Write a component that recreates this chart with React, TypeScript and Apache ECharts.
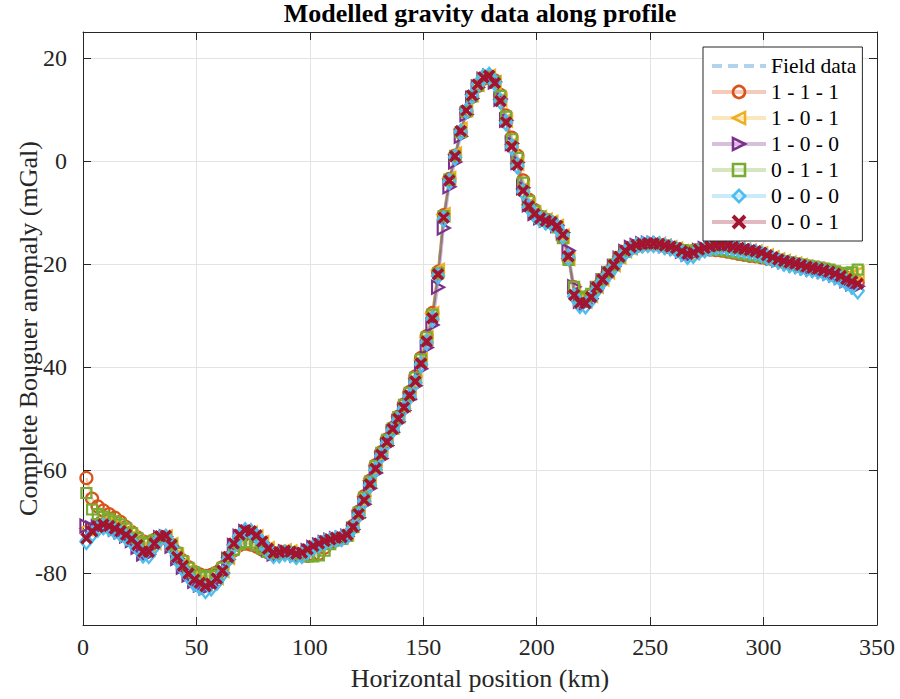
import React, { useEffect, useRef } from "react";
import * as echarts from "echarts";

// Horizontal position of the stations (km)
const positionKm = [
  1.5, 4, 6.5, 9, 11.5, 14, 16.5, 19, 21.5, 24,
  26.5, 29, 31.5, 34, 36.5, 39, 41.5, 44, 46.5, 49,
  51.5, 54, 56.5, 59, 61.5, 64, 66.5, 69, 71.5, 74,
  76.5, 79, 81.5, 84, 86.5, 89, 91.5, 94, 96.5, 99,
  101.5, 104, 106.5, 109, 111.5, 114, 116.5, 119, 121.5, 124,
  126.5, 129, 131.5, 134, 136.5, 139, 141.5, 144, 146.5, 149,
  151.5, 154, 156.5, 159, 161.5, 164, 166.5, 169, 171.5, 174,
  176.5, 179, 181.5, 184, 186.5, 189, 191.5, 194, 196.5, 199,
  201.5, 204, 206.5, 209, 211.5, 214, 216.5, 219, 221.5, 224,
  226.5, 229, 231.5, 234, 236.5, 239, 241.5, 244, 246.5, 249,
  251.5, 254, 256.5, 259, 261.5, 264, 266.5, 269, 271.5, 274,
  276.5, 279, 281.5, 284, 286.5, 289, 291.5, 294, 296.5, 299,
  301.5, 304, 306.5, 309, 311.5, 314, 316.5, 319, 321.5, 324,
  326.5, 329, 331.5, 334, 336.5, 339, 341.5,
];

const fieldData = [
  -72.5, -71.5, -70.8, -70.4, -70.7, -71.2, -71.7, -72.4, -73.2, -74.3,
  -75.5, -75.6, -74.2, -72.9, -72.8, -74.4, -76.6, -78.3, -79.8, -81.0,
  -81.6, -82.3, -81.8, -80.9, -79.4, -76.8, -74.3, -72.6, -71.8, -72.0,
  -72.7, -73.9, -75.3, -76.0, -75.9, -75.6, -75.8, -76.2, -76.0, -75.3,
  -74.7, -74.2, -73.7, -73.4, -73.1, -73.0, -72.5, -71.0, -68.5, -65.8,
  -62.5, -59.6, -56.8, -54.3, -51.9, -49.8, -47.6, -45.3, -42.6, -39.0,
  -34.8, -30.2, -21.8, -11.0, -3.7, 1.0, 5.9, 9.9, 12.8, 14.9,
  16.3, 16.6, 15.2, 11.7, 7.6, 2.9, -0.7, -5.6, -8.7, -10.2,
  -11.0, -11.5, -11.8, -12.5, -14.2, -18.4, -25.8, -27.4, -27.5, -26.3,
  -24.4, -22.9, -21.5, -20.1, -18.6, -17.4, -16.7, -16.3, -16.1, -16.0,
  -16.0, -16.1, -16.3, -16.6, -16.9, -17.5, -18.0, -17.8, -17.2, -16.9,
  -16.6, -16.4, -16.3, -16.4, -16.7, -16.9, -17.1, -17.3, -17.5, -17.8,
  -18.3, -18.7, -19.1, -19.4, -19.7, -19.9, -20.2, -20.5, -20.7, -20.9,
  -21.2, -21.5, -21.9, -22.3, -22.9, -23.4, -23.8,
];

const model111 = [
  -61.5, -65.5, -67.0, -67.8, -68.5, -69.2, -70.0, -71.0, -72.0, -73.0,
  -73.8, -74.0, -73.5, -73.0, -73.2, -74.5, -76.0, -77.5, -78.8, -79.7,
  -80.2, -80.5, -80.3, -79.8, -78.8, -77.0, -75.5, -74.5, -74.2, -74.4,
  -74.8, -75.4, -75.9, -76.2, -76.1, -75.9, -76.0, -76.3, -76.5, -76.6,
  -76.4, -76.2, -75.0, -74.0, -73.5, -73.2, -72.6, -70.8, -68.0, -65.0,
  -62.0, -59.0, -56.5, -54.0, -51.8, -49.6, -47.2, -44.8, -41.8, -38.2,
  -34.0, -29.5, -21.5, -10.5, -3.5, 1.0, 5.5, 9.5, 12.4, 14.5,
  15.9, 16.3, 15.6, 12.8, 8.8, 4.5, 1.0, -3.8, -7.5, -9.5,
  -10.8, -11.4, -11.9, -12.8, -14.8, -19.0, -24.5, -26.5, -26.8, -26.0,
  -24.5, -23.0, -21.6, -20.2, -18.8, -17.6, -16.9, -16.5, -16.3, -16.2,
  -16.2, -16.3, -16.5, -16.8, -17.1, -17.4, -17.6, -17.5, -17.3, -17.2,
  -17.2, -17.3, -17.4, -17.6, -17.8, -18.0, -18.2, -18.4, -18.5, -18.7,
  -18.9, -19.1, -19.3, -19.6, -19.8, -20.0, -20.2, -20.4, -20.6, -20.8,
  -21.0, -21.3, -21.7, -22.1, -22.6, -23.1, -23.6,
];

const model101 = [
  -71.3, -70.8, -70.3, -70.0, -70.3, -70.8, -71.4, -72.1, -72.9, -74.0,
  -75.2, -75.3, -74.0, -72.9, -72.9, -74.4, -76.5, -78.2, -79.6, -80.8,
  -81.5, -82.1, -81.7, -80.8, -79.4, -76.9, -74.4, -72.8, -72.0, -72.2,
  -72.9, -74.0, -75.2, -75.9, -75.8, -75.6, -75.8, -76.1, -76.0, -75.4,
  -74.9, -74.4, -73.9, -73.5, -73.2, -73.0, -72.3, -70.6, -67.9, -65.1,
  -62.0, -59.1, -56.5, -54.0, -51.6, -49.5, -47.3, -45.0, -42.2, -38.6,
  -34.3, -29.6, -21.2, -10.4, -3.4, 1.3, 6.1, 10.0, 12.9, 14.9,
  16.2, 16.4, 15.2, 11.9, 7.9, 3.2, -0.5, -5.4, -8.5, -10.1,
  -11.0, -11.5, -11.9, -12.7, -14.6, -18.9, -25.5, -27.0, -27.2, -26.1,
  -24.3, -22.9, -21.5, -20.1, -18.6, -17.4, -16.8, -16.4, -16.2, -16.1,
  -16.1, -16.2, -16.5, -16.8, -17.1, -17.6, -17.9, -17.8, -17.3, -17.0,
  -16.8, -16.6, -16.6, -16.7, -16.9, -17.1, -17.3, -17.5, -17.7, -18.0,
  -18.4, -18.8, -19.2, -19.5, -19.8, -20.0, -20.3, -20.6, -20.8, -21.0,
  -21.3, -21.6, -22.0, -22.3, -22.6, -22.2, -21.8,
];

const model100 = [
  -70.8, -71.2, -70.9, -70.6, -70.9, -71.4, -71.9, -72.7, -73.6, -74.9,
  -76.2, -76.3, -74.6, -73.1, -72.9, -74.7, -77.1, -78.8, -80.3, -81.5,
  -82.2, -82.8, -82.3, -81.3, -79.9, -77.3, -74.6, -72.8, -71.9, -72.0,
  -72.8, -74.0, -75.4, -76.2, -76.1, -75.8, -76.0, -76.4, -76.3, -75.6,
  -75.0, -74.5, -74.0, -73.6, -73.3, -73.2, -72.8, -71.5, -69.2, -66.6,
  -63.5, -60.5, -57.7, -55.2, -52.6, -50.6, -48.4, -46.2, -43.6, -40.3,
  -36.2, -31.8, -24.5, -13.0, -5.0, -0.2, 4.8, 9.0, 12.1, 14.3,
  15.8, 16.4, 15.3, 12.0, 7.9, 3.4, -0.3, -5.2, -8.5, -10.2,
  -11.0, -11.5, -11.8, -12.5, -13.9, -17.4, -24.4, -27.2, -27.7, -26.7,
  -24.8, -23.3, -21.9, -20.5, -18.9, -17.6, -16.8, -16.4, -16.1, -16.0,
  -16.0, -16.1, -16.4, -16.6, -16.9, -17.5, -18.1, -18.0, -17.4, -17.0,
  -16.7, -16.5, -16.4, -16.5, -16.8, -17.0, -17.2, -17.4, -17.6, -17.9,
  -18.4, -18.8, -19.2, -19.5, -19.8, -20.1, -20.4, -20.7, -20.9, -21.1,
  -21.4, -21.7, -22.1, -22.6, -23.2, -23.8, -24.3,
];

const model011 = [
  -64.4, -67.6, -68.5, -69.0, -69.4, -69.9, -70.5, -71.3, -72.2, -73.2,
  -74.0, -74.2, -73.6, -73.0, -73.1, -74.4, -76.0, -77.6, -78.9, -79.8,
  -80.4, -80.7, -80.5, -79.9, -78.9, -77.0, -75.4, -74.3, -73.9, -74.0,
  -74.5, -75.2, -75.8, -76.1, -76.0, -75.8, -75.9, -76.2, -76.5, -76.7,
  -76.7, -76.5, -75.6, -74.3, -73.6, -73.3, -72.7, -71.0, -68.2, -65.3,
  -62.2, -59.2, -56.6, -54.1, -51.9, -49.7, -47.3, -45.0, -42.0, -38.5,
  -34.2, -29.8, -21.8, -10.7, -3.6, 1.0, 5.6, 9.6, 12.5, 14.6,
  16.0, 16.3, 15.4, 12.6, 8.6, 4.2, 0.6, -4.2, -7.8, -9.7,
  -10.8, -11.4, -11.9, -12.9, -15.0, -19.2, -24.4, -26.3, -26.6, -25.8,
  -24.4, -22.9, -21.5, -20.1, -18.7, -17.6, -16.9, -16.5, -16.3, -16.2,
  -16.2, -16.3, -16.5, -16.7, -17.0, -17.3, -17.5, -17.4, -17.2, -17.1,
  -17.1, -17.2, -17.3, -17.5, -17.7, -17.9, -18.1, -18.3, -18.4, -18.6,
  -18.8, -19.0, -19.2, -19.5, -19.7, -19.9, -20.1, -20.3, -20.5, -20.7,
  -20.9, -21.1, -21.4, -21.7, -21.9, -21.6, -21.1,
];

const model000 = [
  -73.8, -72.4, -71.4, -70.9, -71.2, -71.8, -72.3, -73.0, -73.9, -75.1,
  -76.4, -76.5, -74.8, -73.2, -73.0, -74.9, -77.3, -79.1, -80.6, -81.9,
  -82.6, -83.3, -82.8, -81.7, -80.1, -77.3, -74.6, -72.7, -71.7, -71.9,
  -72.8, -74.1, -75.6, -76.5, -76.4, -76.1, -76.3, -76.7, -76.5, -75.7,
  -75.0, -74.4, -73.9, -73.6, -73.3, -73.2, -72.7, -71.2, -68.7, -66.0,
  -62.9, -59.9, -57.2, -54.7, -52.2, -50.2, -48.0, -45.7, -43.0, -39.5,
  -35.2, -30.7, -22.3, -11.3, -4.0, 0.7, 5.6, 9.7, 12.6, 14.8,
  16.3, 16.6, 15.2, 11.6, 7.4, 2.7, -1.0, -6.0, -9.0, -10.5,
  -11.3, -11.8, -12.1, -12.8, -14.5, -18.7, -26.3, -28.0, -28.1, -26.9,
  -25.0, -23.4, -22.0, -20.6, -19.0, -17.8, -17.0, -16.5, -16.3, -16.2,
  -16.2, -16.3, -16.6, -16.8, -17.2, -17.9, -18.5, -18.3, -17.6, -17.2,
  -16.9, -16.7, -16.6, -16.7, -17.0, -17.2, -17.4, -17.6, -17.8, -18.1,
  -18.6, -19.0, -19.4, -19.8, -20.1, -20.3, -20.6, -20.9, -21.1, -21.3,
  -21.6, -22.0, -22.4, -22.9, -23.6, -24.3, -25.2,
];

const model001 = [
  -73.2, -71.8, -71.0, -70.5, -70.8, -71.3, -71.8, -72.5, -73.3, -74.5,
  -75.8, -75.8, -74.2, -72.8, -72.7, -74.5, -76.8, -78.5, -80.0, -81.2,
  -81.8, -82.5, -82.0, -81.0, -79.5, -76.8, -74.2, -72.5, -71.6, -71.8,
  -72.6, -73.8, -75.2, -76.0, -75.9, -75.6, -75.8, -76.2, -76.0, -75.3,
  -74.7, -74.2, -73.7, -73.4, -73.1, -73.0, -72.5, -71.0, -68.5, -65.8,
  -62.7, -59.7, -57.0, -54.5, -52.0, -50.0, -47.8, -45.5, -42.8, -39.3,
  -35.0, -30.5, -22.0, -11.0, -3.8, 0.9, 5.8, 9.8, 12.7, 14.8,
  16.2, 16.5, 15.1, 11.6, 7.5, 2.8, -0.8, -5.8, -8.8, -10.3,
  -11.1, -11.6, -11.9, -12.6, -14.3, -18.5, -26.0, -27.5, -27.6, -26.4,
  -24.5, -23.0, -21.6, -20.2, -18.6, -17.4, -16.7, -16.3, -16.1, -16.0,
  -16.0, -16.1, -16.4, -16.6, -16.9, -17.5, -18.0, -17.8, -17.2, -16.9,
  -16.6, -16.4, -16.3, -16.4, -16.7, -16.9, -17.1, -17.3, -17.5, -17.8,
  -18.3, -18.7, -19.1, -19.4, -19.7, -19.9, -20.2, -20.5, -20.7, -20.9,
  -21.2, -21.5, -21.9, -22.3, -22.9, -23.4, -23.8,
];

const seriesNames = ["Field data", "1 - 1 - 1", "1 - 0 - 1", "1 - 0 - 0", "0 - 1 - 1", "0 - 0 - 0", "0 - 0 - 1"];
const xTicks = [0, 50, 100, 150, 200, 250, 300, 350];
const yTicks = [-80, -60, -40, -20, 0, 20];

const FONT = "'Liberation Serif', 'Times New Roman', Times, serif";
const AXIS_COLOR = "#262626";

function pairs(values: number[]) {
  return values.map((v, i) => [positionKm[i], v]);
}

export default function App() {
  const ref = useRef<HTMLDivElement>(null);

  useEffect(() => {
    if (!ref.current) return;
    const chart = echarts.init(ref.current, undefined, { renderer: "svg" });

    const modelDefs = [
      { name: seriesNames[1], values: model111, color: "#D95319", symbol: "circle", size: 12, bw: 2.2 },
      { name: seriesNames[2], values: model101, color: "#EDB120", symbol: "path://M0,5L9,0L9,10Z", size: [12, 13], bw: 2.2 },
      { name: seriesNames[3], values: model100, color: "#7E2F8E", symbol: "path://M9,5L0,0L0,10Z", size: [12, 13], bw: 2.2 },
      { name: seriesNames[4], values: model011, color: "#77AC30", symbol: "rect", size: 10, bw: 2.2 },
      { name: seriesNames[5], values: model000, color: "#4DBEEE", symbol: "diamond", size: [12, 15], bw: 2.4 },
      { name: seriesNames[6], values: model001, color: "#A2142F", symbol: "path://M0,0L8,8M8,0L0,8", size: 10, bw: 3.5 },
    ];

    const fieldSeries = {
      name: seriesNames[0],
      type: "line",
      data: pairs(fieldData),
      symbol: "none",
      showSymbol: false,
      itemStyle: { color: "rgba(0,0,0,0)", borderWidth: 0 },
      lineStyle: { color: "#0072BD", opacity: 0.3, width: 2.5, type: [10, 6] },
      z: 2,
    };

    const modelSeries = modelDefs.map((d) => ({
      name: d.name,
      type: "line",
      data: pairs(d.values),
      symbol: d.symbol,
      symbolSize: d.size,
      showSymbol: true,
      showAllSymbol: true,
      itemStyle: { color: "rgba(0,0,0,0)", borderColor: d.color, borderWidth: d.bw },
      lineStyle: { color: d.color, opacity: 0.3, width: 2.5 },
      emphasis: { disabled: true },
      z: 2,
    }));

    const legendData = [
      { name: seriesNames[0], itemStyle: { color: "rgba(0,0,0,0)", borderWidth: 0 } },
      ...modelDefs.map((d) => ({
        name: d.name,
        itemStyle: { color: "rgba(0,0,0,0)", borderColor: d.color, borderWidth: d.bw + 0.4 },
      })),
    ];

    const option: any = {
      animation: false,
      backgroundColor: "#ffffff",
      title: {
        text: "Modelled gravity data along profile",
        left: 480,
        top: 0,
        padding: 0,
        textAlign: "center",
        textStyle: { fontFamily: FONT, fontSize: 26, fontWeight: "bold", color: "#000" },
      },
      grid: { left: 83, right: 23, top: 32, bottom: 74, containLabel: false, outerBoundsMode: "none" },
      legend: {
        orient: "vertical",
        left: 703,
        top: 47,
        padding: [8, 6, 8, 7],
        itemWidth: 54,
        itemHeight: 15,
        itemGap: 4,
        backgroundColor: "#ffffff",
        borderColor: AXIS_COLOR,
        borderWidth: 1,
        borderRadius: 0,
        lineStyle: { width: 4 },
        textStyle: { fontFamily: FONT, fontSize: 21.5, color: "#000", lineHeight: 22 },
        data: legendData,
        selectedMode: false,
      },
      xAxis: [
        {
          type: "value",
          min: 0,
          max: 350,
          interval: 50,
          position: "bottom",
          name: "Horizontal position (km)",
          nameLocation: "middle",
          nameGap: 40,
          nameTextStyle: { fontFamily: FONT, fontSize: 26, color: AXIS_COLOR },
          axisLine: { show: true, onZero: false, lineStyle: { color: AXIS_COLOR, width: 1 } },
          axisTick: { show: true, inside: true, length: 8, lineStyle: { color: AXIS_COLOR } },
          axisLabel: {
            fontFamily: FONT,
            fontSize: 24,
            color: AXIS_COLOR,
            margin: 10,
            formatter: (v: number) => (xTicks.includes(v) ? String(v) : ""),
          },
          splitLine: { show: true, lineStyle: { color: "#e3e3e3", width: 1 } },
        },
        {
          type: "value",
          min: 0,
          max: 350,
          interval: 50,
          position: "top",
          axisLine: { show: true, onZero: false, lineStyle: { color: AXIS_COLOR, width: 1 } },
          axisTick: { show: true, inside: true, length: 8, lineStyle: { color: AXIS_COLOR } },
          axisLabel: { show: false },
          splitLine: { show: false },
        },
      ],
      yAxis: [
        {
          type: "value",
          min: -90,
          max: 25,
          splitNumber: 5,
          minInterval: 20,
          maxInterval: 20,
          position: "left",
          name: "Complete Bouguer anomaly (mGal)",
          nameLocation: "middle",
          nameGap: 42,
          nameMoveOverlap: false,
          nameTextStyle: { fontFamily: FONT, fontSize: 26, color: AXIS_COLOR },
          axisLine: { show: true, onZero: false, lineStyle: { color: AXIS_COLOR, width: 1 } },
          axisTick: { show: true, inside: true, length: 8, lineStyle: { color: AXIS_COLOR } },
          axisLabel: {
            fontFamily: FONT,
            fontSize: 24,
            color: AXIS_COLOR,
            margin: 16,
            showMinLabel: false,
            showMaxLabel: false,
            formatter: (v: number) => (yTicks.includes(v) ? String(v) : ""),
          },
          splitLine: { show: true, lineStyle: { color: "#e3e3e3", width: 1 } },
        },
        {
          type: "value",
          min: -90,
          max: 25,
          splitNumber: 5,
          minInterval: 20,
          maxInterval: 20,
          position: "right",
          axisLine: { show: true, onZero: false, lineStyle: { color: AXIS_COLOR, width: 1 } },
          axisTick: { show: true, inside: true, length: 8, lineStyle: { color: AXIS_COLOR } },
          axisLabel: { show: false },
          splitLine: { show: false },
        },
      ],
      series: [fieldSeries, ...modelSeries],
    };

    chart.setOption(option);
    return () => chart.dispose();
  }, []);

  return <div ref={ref} style={{ position: "absolute", left: 0, top: 0, width: 900, height: 699 }} />;
}
